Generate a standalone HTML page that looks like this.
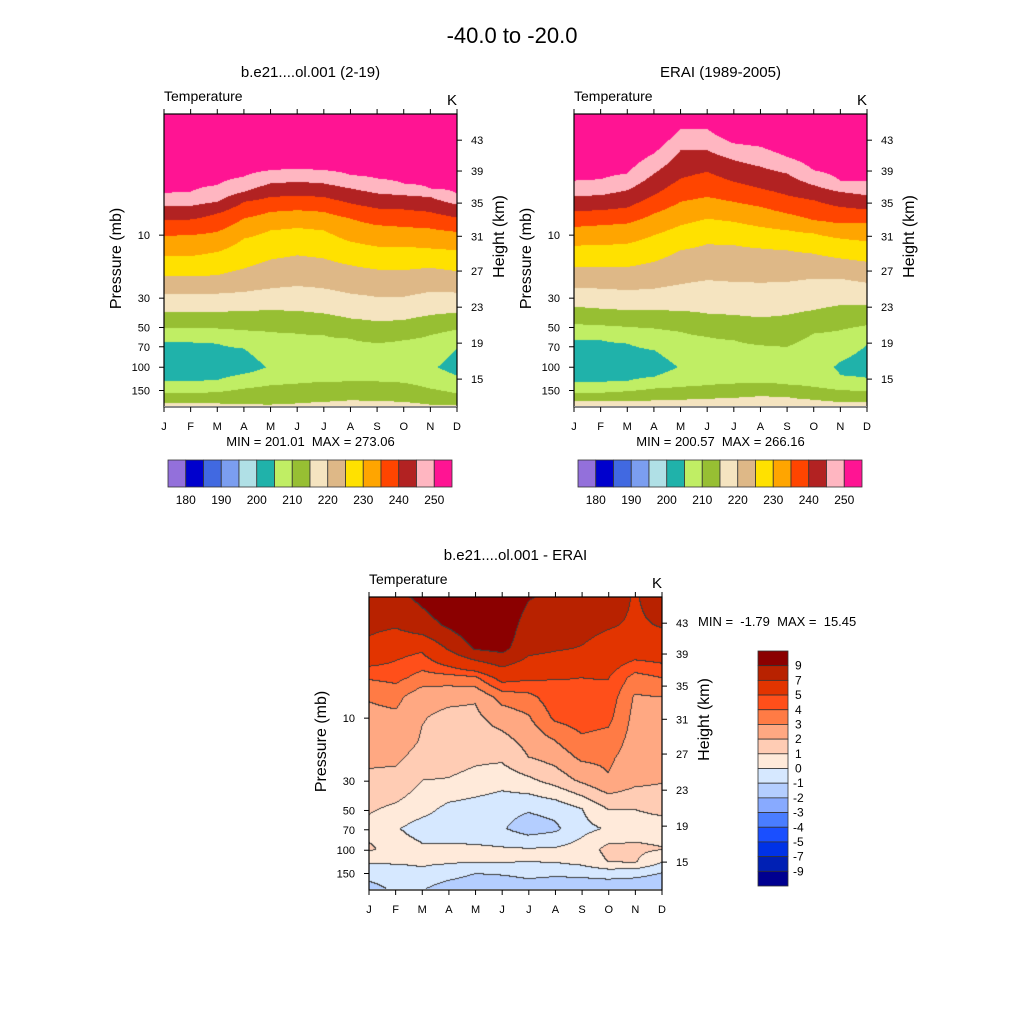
<!DOCTYPE html>
<html><head><meta charset="utf-8"><style>
html,body{margin:0;padding:0;background:#fff;}
#root{position:relative;width:1024px;height:1024px;overflow:hidden;font-family:"Liberation Sans",Arial,sans-serif;}
canvas{position:absolute;}
svg{position:absolute;left:0;top:0;}
text{font-family:"Liberation Sans",Arial,sans-serif;fill:#000;white-space:pre;}
</style></head><body>
<div id="root">
<canvas id="c1" width="293" height="293" style="left:164px;top:114px"></canvas>
<canvas id="c2" width="293" height="293" style="left:574px;top:114px"></canvas>
<canvas id="c3" width="293" height="292" style="left:369px;top:597px"></canvas>
<svg id="ov" width="1024" height="1024"></svg>
</div>
<script>
// ---------- shared axis data ----------
const months = ["J","F","M","A","M","J","J","A","S","O","N","D"];
const pTickLabels = ["10","30","50","70","100","150"];
const pTickValues = [10,30,50,70,100,150];
const hTickLabels = ["43","39","35","31","27","23","19","15"];
const hTickPressures = [1.91,3.27,5.72,10.2,18.7,35.1,65.7,123];
const P_TOP = 1.21, P_BOT = 200;

// ---------- temperature colour levels ----------
const tempLevels = [180,185,190,195,200,205,210,215,220,225,230,235,240,245,250];
const tempColors = ["#9370DB","#0000CD","#4169E1","#7B9EF0","#B0E0E6","#20B2AA","#C0EE64","#97BF33","#F5E4C0","#DEB887","#FFE100","#FFA500","#FF4500","#B22222","#FFB6C1","#FF1493"];
const tempLabels = ["180","190","200","210","220","230","240","250"];

// ---------- model panel (pressure, mb, where each isotherm crosses) ----------
const m_top = 260, m_bot = 217, m_pmin = 100;
const m_250 = [4.83,4.69,4.18,3.61,3.22,3.16,3.22,3.51,3.72,4.06,4.43,4.83];
const m_245 = [6.00,6.00,5.59,4.69,4.06,3.94,4.06,4.43,4.83,4.98,5.13,5.86];
const m_240 = [7.69,7.61,6.85,5.59,5.13,5.03,5.13,5.75,6.28,6.39,6.66,7.35];
const m_235 = [10.1,10,9.44,7.48,6.66,6.47,6.66,7.48,8.40,8.65,8.90,9.44];
const m_230 = [14.4,14.4,13.4,10.6,9.17,8.80,9.17,11.2,12.2,12.2,12.6,13.0];
const m_225 = [20.5,20.5,20.1,17.9,15.3,14.2,15.0,16.9,18.2,18.4,17.6,18.7];
const m_220 = [28.1,28.1,27.7,26.9,25.3,24.3,25.3,27.7,29.3,29.3,26.9,27.2];
const m_215 = [38.3,38.3,38.1,37.4,37.0,37.4,39.2,42.7,44.8,44.0,40.3,38.7];
const m_210 = [50.4,50.4,50.9,52.5,54.0,55.6,57.2,60.7,65.5,62.4,57.2,51.9];
const m_205u = [64.7,64.7,66.2,72.3,null,null,null,null,null,null,null,72.3];
const m_tmin = [202,202,202,202.5,205.5,207,207.5,207.5,207.5,207,205.8,203];
const m_205l = [128,128,125,112,null,null,null,null,null,null,null,115];
const m_210l = [158,158,154,145,137,133,129,128,128,131,145,158];
const m_215l = [186,186,188,191,192,188,183,178,180,183,192,194];

// ---------- ERAI panel ----------
const e_top = 260, e_bot = 217, e_pmin = 100;
const e_250 = [3.87,3.78,3.41,2.40,1.56,1.57,2.02,2.14,2.55,3.22,3.87,3.87];
const e_245 = [5.07,4.98,4.56,3.41,2.27,2.27,2.70,3.03,3.41,4.18,4.70,4.98];
const e_240 = [6.58,6.47,6.17,4.98,3.72,3.31,3.94,4.43,4.98,5.43,6.10,6.39];
const e_235 = [8.65,8.40,8.16,6.85,5.59,5.13,5.59,6.10,6.85,7.69,8.16,8.16];
const e_230 = [12.0,11.9,11.6,10,8.40,7.48,7.92,8.65,9.17,9.71,10.6,11.1];
const e_225 = [17.4,17.4,17.4,15.9,13.0,11.7,11.9,12.6,13.0,13.8,15.0,15.9];
const e_220 = [25.1,25.4,26.1,25.4,23.5,21.9,22.6,22.9,22.6,21.3,21.3,22.9];
const e_215 = [34.9,36.0,37.0,37.0,37.4,39.2,40.3,42.0,40.3,37.0,33.9,33.9];
const e_210 = [47.2,48.1,49.5,50.9,54.0,58.9,62.4,68.1,70.1,55.6,52.5,48.1];
const e_205u = [62.4,62.4,66.2,74.3,null,null,null,null,null,null,91.2,68.1];
const e_tmin = [201.5,201.5,202,202.5,205.3,207,207.5,207.5,207,205.9,204.7,202.5];
const e_205l = [129,129,127,118,null,null,null,null,null,null,115,120];
const e_210l = [156,156,152,145,141,137,133,131,135,141,149,152];
const e_215l = [181,181,181,178,176,173,170,165,168,176,183,183];

// ---------- difference panel (grid: month x pressure level) ----------
const diffPressures = [1.2,2,3,5,7,10,15,20,30,50,70,100,125,150,200];
const diffJan = [8.2,7.5,6.4,4.1,3.1,2.7,2.5,2.2,1.8,1.1,0.7,1.15,0.1,-0.5,-1.4];
const diffFeb = [8.5,7.2,5.5,4.3,3.3,2.8,2.6,2.2,1.7,0.8,0.1,0.6,0.1,-0.3,-0.8];
const diffMar = [9.5,8.2,5.2,3.6,2.3,2.05,1.9,1.6,1.0,0.35,-0.5,0.2,0.1,-0.1,-0.9];
const diffApr = [10.5,9.3,7.2,3.6,2.2,1.8,1.6,1.4,0.95,-0.3,-0.5,0.2,0.1,-0.4,-1.6];
const diffMay = [11,10.5,9.2,3.8,2.1,1.8,1.6,1.2,0.7,-0.5,-0.7,0.2,0.05,-0.9,-2.0];
const diffJun = [11,10.5,9.6,5.5,3.4,2.4,1.7,1.2,0.4,-0.7,-0.9,0.1,0.05,-0.8,-1.9];
const diffJul = [9.2,8.0,7.6,5.2,3.7,2.9,2.3,2.0,0.8,-0.9,-1.5,0.05,0.0,-0.6,-1.6];
const diffAug = [8.5,7.8,7.2,5.05,4.6,4.2,3.0,2.4,1.4,-0.7,-1.2,0.1,0.05,-0.7,-1.8];
const diffSep = [8.3,7.7,6.9,5.0,4.8,4.5,3.8,3.2,2.2,-0.05,-0.3,0.4,0.3,-0.6,-1.8];
const diffOct = [8.3,7.2,6.1,5.05,4.6,4.3,3.6,3.2,2.9,1.0,0.1,1.3,1.0,-0.4,-1.8];
const diffNov = [6.8,6.7,5.9,3.6,2.9,2.7,2.6,2.5,2.3,1.0,0.6,1.2,1.1,-0.5,-1.9];
const diffDec = [8.0,7.1,6.0,4.0,3.0,2.8,2.6,2.4,2.1,1.2,0.6,1.05,0.1,-0.95,-2.0];
const diffLevels = [-9,-7,-5,-4,-3,-2,-1,0,1,2,3,4,5,7,9];
const diffColors = ["#000090","#0020B4","#0032E6","#1A4FFF","#4A7DFF","#88AAFF","#B4CEFF","#D6E8FF","#FFEADA","#FFCCB4","#FFA882","#FF7B45","#FF4F1A","#E23400","#B82200","#8B0000"];
const diffLabels = ["9","7","5","4","3","2","1","0","-1","-2","-3","-4","-5","-7","-9"];

// ---------- helpers ----------
const L = Math.log10;
function yScale(top,h){return p => top + (L(p)-L(P_TOP))/(L(P_BOT)-L(P_TOP))*h;}
function xScale(left,w){return m => left + m*w/11;}
function hex(c){return [parseInt(c.substr(1,2),16),parseInt(c.substr(3,2),16),parseInt(c.substr(5,2),16)];}
function band(v,levels){let i=0;while(i<levels.length&&v>=levels[i])i++;return i;}
function interpKnots(knots,lp){
  if(lp<=knots[0][0])return knots[0][1];
  for(let i=1;i<knots.length;i++){if(lp<=knots[i][0]){const a=knots[i-1],b=knots[i];const f=(lp-a[0])/(b[0]-a[0]||1);return a[1]+f*(b[1]-a[1]);}}
  return knots[knots.length-1][1];
}
function buildKnots(m,top,bot,upper,u205,tmin,pmin,l205,l210,l215){
  const k=[[L(P_TOP),top]];
  const lv=[250,245,240,235,230,225,220,215,210];
  upper.forEach((a,i)=>k.push([L(a[m]),lv[i]]));
  if(u205[m]!=null)k.push([L(u205[m]),205]);
  k.push([L(pmin),tmin[m]]);
  if(l205[m]!=null)k.push([L(l205[m]),205]);
  k.push([L(l210[m]),210]);k.push([L(l215[m]),215]);
  k.push([L(P_BOT),bot]);
  k.sort((a,b)=>a[0]-b[0]);
  return k;
}
function renderField(canvas,colFn,levels,colors,lines){
  const ctx=canvas.getContext('2d');const W=canvas.width,H=canvas.height;
  const img=ctx.createImageData(W,H);const rgb=colors.map(hex);
  const cols=[];for(let m=0;m<12;m++){const c=[];for(let y=0;y<H;y++){const lp=L(P_TOP)+(y+0.5)/H*(L(P_BOT)-L(P_TOP));c.push(colFn(m,lp));}cols.push(c);}
  const B=new Int16Array(W*H);
  for(let x=0;x<W;x++){const mf=x/(W-1)*11;let m0=Math.floor(mf);if(m0>10)m0=10;const f=mf-m0;
    for(let y=0;y<H;y++){const v=cols[m0][y]*(1-f)+cols[m0+1][y]*f;B[y*W+x]=band(v,levels);}}
  for(let y=0;y<H;y++)for(let x=0;x<W;x++){const b=B[y*W+x];let c=rgb[b];
    if(lines){const r=x<W-1?B[y*W+x+1]:b,d=y<H-1?B[(y+1)*W+x]:b;if(r!==b||d!==b)c=[60,60,60];}
    const i=(y*W+x)*4;img.data[i]=c[0];img.data[i+1]=c[1];img.data[i+2]=c[2];img.data[i+3]=255;}
  ctx.putImageData(img,0,0);
}
const mUpper=[m_250,m_245,m_240,m_235,m_230,m_225,m_220,m_215,m_210];
const mKnots=months.map((_,m)=>buildKnots(m,m_top,m_bot,mUpper,m_205u,m_tmin,m_pmin,m_205l,m_210l,m_215l));
renderField(document.getElementById('c1'),(m,lp)=>interpKnots(mKnots[m],lp),tempLevels,tempColors,false);
const eUpper=[e_250,e_245,e_240,e_235,e_230,e_225,e_220,e_215,e_210];
const eKnots=months.map((_,m)=>buildKnots(m,e_top,e_bot,eUpper,e_205u,e_tmin,e_pmin,e_205l,e_210l,e_215l));
renderField(document.getElementById('c2'),(m,lp)=>interpKnots(eKnots[m],lp),tempLevels,tempColors,false);
const diffGrid=[diffJan,diffFeb,diffMar,diffApr,diffMay,diffJun,diffJul,diffAug,diffSep,diffOct,diffNov,diffDec];
renderField(document.getElementById('c3'),(m,lp)=>interpKnots(diffPressures.map((p,i)=>[L(p),diffGrid[m][i]]),lp),diffLevels,diffColors,true);

// ---------- SVG overlay ----------
const NS="http://www.w3.org/2000/svg";const svg=document.getElementById('ov');
function el(tag,attrs,parent){const e=document.createElementNS(NS,tag);for(const k in attrs)e.setAttribute(k,attrs[k]);(parent||svg).appendChild(e);return e;}
function txt(s,x,y,size,anchor,name,parent,extra){const t=el('text',Object.assign({x:x,y:y,'font-size':size,'text-anchor':anchor||'start'},extra||{}),parent);t.textContent=s;


return t;}
txt("-40.0 to -20.0",512,43,22,'middle','figure-title');

function drawPanel(left,top,name,titleStr,minmax,bottomAxisGray){
  const g=el('g',{});
  
  
  const W=293,H=293;const xs=xScale(left,W),ys=yScale(top,H);
  txt(titleStr,left+W/2,top-37,15,'middle','panel-title',g);
  txt("Temperature",left,top-13,14,'start','field-name-label',g);
  txt("K",left+W-5,top-9,15,'middle','units-label',g);
  el('rect',{x:left,y:top,width:W,height:H,fill:'none',stroke:'#000','stroke-width':1.2},g);
  if(bottomAxisGray)el('line',{x1:left,y1:top+H,x2:left+W,y2:top+H,stroke:'#8a8a8a','stroke-width':2},g);
  months.forEach((mn,i)=>{const x=xs(i);
    el('line',{x1:x,y1:top,x2:x,y2:top-5,stroke:'#000'},g);
    el('line',{x1:x,y1:top+H,x2:x,y2:top+H+5,stroke:'#000'},g);
    txt(mn,x,top+H+23,11,'middle','month-tick-label',g);});
  pTickValues.forEach((p,i)=>{const y=ys(p);
    el('line',{x1:left,y1:y,x2:left-5,y2:y,stroke:'#000'},g);
    txt(pTickLabels[i],left-14,y+4,11,'end','pressure-tick-label',g);});
  hTickPressures.forEach((p,i)=>{const y=ys(p);
    el('line',{x1:left+W,y1:y,x2:left+W+5,y2:y,stroke:'#000'},g);
    txt(hTickLabels[i],left+W+14,y+4,11,'start','height-tick-label',g);});
  txt("Pressure (mb)",0,0,16,'middle','y-axis-title',g,{transform:`translate(${left-43},${top+H/2-2}) rotate(-90)`});
  txt("Height (km)",0,0,16,'middle','right-axis-title',g,{transform:`translate(${left+W+47},${top+H/2-24}) rotate(-90)`});
  if(minmax)txt(minmax,left+W/2,top+H+39,13,'middle','min-max-label',g);
}
drawPanel(164,114,'model-panel','b.e21....ol.001 (2-19)','MIN = 201.01  MAX = 273.06',true);
drawPanel(574,114,'erai-panel','ERAI (1989-2005)','MIN = 200.57  MAX = 266.16',true);
drawPanel(369,597,'difference-panel','b.e21....ol.001 - ERAI',null,false);
txt("MIN =  -1.79  MAX =  15.45",698,626,13,'start','difference-min-max-label');

function hColorbar(left,top,name){
  const g=el('g',{});
  
  
  const bw=284/tempColors.length;
  tempColors.forEach((c,i)=>{const r=el('rect',{x:left+i*bw,y:top,width:bw,height:27,fill:c,stroke:'#333','stroke-width':0.8},g);
    
    });
  tempLabels.forEach((s,i)=>{txt(s,left+bw*(1+2*i),top+44,12,'middle','colorbar-label',g);});
}
hColorbar(168,460,'model-colorbar');
hColorbar(578,460,'erai-colorbar');
(function(){const g=el('g',{});
  
  
  const bh=235/diffColors.length;
  for(let i=0;i<diffColors.length;i++){const r=el('rect',{x:758,y:651+i*bh,width:30,height:bh,fill:diffColors[diffColors.length-1-i],stroke:'#333','stroke-width':0.8},g);
    
    }
  diffLabels.forEach((s,i)=>{txt(s,s[0]==='-'?793:795,651+bh*(i+1)+4,12,'start','colorbar-label',g);});
})();
</script>
</body></html>
